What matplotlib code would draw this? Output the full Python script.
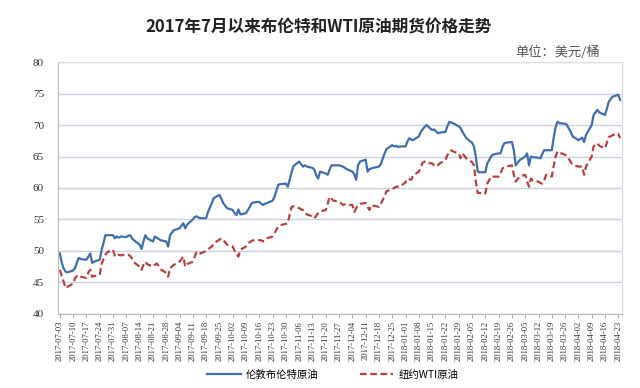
import matplotlib
matplotlib.use("Agg")
import matplotlib.pyplot as plt
import matplotlib.dates as mdates
import pandas as pd

TITLE = "2017年7月以来布伦特和WTI原油期货价格走势"
UNIT = "单位：美元/桶"
SERIES_NAMES = ["伦敦布伦特原油", "纽约WTI原油"]

dates = pd.bdate_range("2017-07-03", "2018-04-24")
tick_dates = pd.date_range("2017-07-03", "2018-04-23", freq="7D")

brent = [
    49.6, 48.1, 47.2, 46.7, 46.6, 46.9, 47.3, 48.2, 48.9, 48.7,
    48.6, 49.1, 49.6, 48.1, 48.3, 48.6, 50.2, 51.3, 52.5, 52.5,
    52.5, 52.0, 52.3, 52.1, 52.3, 52.2, 52.4, 52.5, 52.0, 51.7,
    51.0, 50.3, 51.5, 52.5, 52.0, 51.5, 52.3, 52.1, 51.9, 51.7,
    51.5, 50.7, 52.5, 52.9, 53.3, 53.6, 54.0, 54.4, 53.6, 54.2,
    55.0, 55.4, 55.5, 55.3, 55.2, 55.2, 56.2, 56.9, 57.6, 58.4,
    58.9, 58.3, 57.6, 57.2, 56.8, 56.5, 56.0, 55.7, 56.6, 55.8,
    56.0, 56.5, 57.0, 57.6, 57.7, 57.8, 57.5, 57.3, 57.5, 57.6,
    58.0, 58.6, 59.6, 60.5, 60.6, 60.7, 60.2, 61.3, 62.5, 63.5,
    64.2, 63.8, 63.4, 63.6, 63.4, 63.2, 62.9, 62.0, 61.5, 62.6,
    62.3, 62.1, 62.9, 63.6, 63.6, 63.6, 63.5, 63.4, 63.2, 63.0,
    62.6, 62.2, 61.3, 63.6, 64.2, 64.5, 62.6, 63.0, 63.1, 63.2,
    63.4, 63.8, 64.7, 65.5, 66.2, 66.8, 66.6, 66.7, 66.5, 66.6,
    66.6, 67.4, 67.9, 67.7, 67.6, 68.2, 68.9, 69.3, 69.7, 70.0,
    69.2, 69.3, 69.0, 68.7, 68.8, 68.9, 69.8, 70.5, 70.4, 70.3,
    69.8, 69.5, 68.9, 68.4, 67.9, 67.2, 66.6, 65.0, 62.6, 62.5,
    62.5, 63.9, 64.4, 65.0, 65.3, 65.5, 65.5, 66.5, 67.1, 67.2,
    67.3, 66.0, 63.6, 64.0, 64.4, 65.0, 65.5, 63.6, 65.0, 64.9,
    64.8, 64.7, 65.4, 66.0, 66.0, 66.0, 68.0, 69.7, 70.5, 70.3,
    70.2, 70.0, 69.4, 68.9, 68.2, 67.6, 67.8, 68.0, 67.3, 68.4,
    70.0, 71.6, 72.0, 72.4, 72.0, 71.6, 72.6, 73.7, 74.1, 74.5,
    74.8, 74.0,
]

wti = [
    47.0, 46.0, 45.1, 44.1, 44.3, 44.8, 45.7, 46.0, 46.2, 45.9,
    45.7, 46.6, 47.0, 45.9, 46.0, 46.2, 48.0, 48.7, 49.4, 49.8,
    50.2, 49.1, 49.3, 49.4, 49.3, 49.4, 49.4, 49.2, 48.8, 48.2,
    47.5, 47.0, 47.8, 48.3, 47.9, 47.5, 47.8, 48.0, 47.6, 47.1,
    46.5, 45.9, 47.3, 47.5, 47.8, 48.3, 48.7, 49.1, 47.5, 47.9,
    48.3, 49.1, 49.9, 49.8, 49.6, 50.0, 50.2, 50.5, 50.7, 51.2,
    51.8, 52.0, 51.7, 51.4, 51.0, 50.7, 50.0, 49.5, 49.1, 50.2,
    50.7, 51.2, 51.4, 51.6, 51.7, 51.7, 51.7, 51.5, 51.8, 52.0,
    52.3, 52.8, 53.4, 53.9, 54.1, 54.3, 54.4, 55.8, 57.0, 57.1,
    56.8, 56.6, 56.5, 56.2, 55.8, 55.5, 55.2, 55.6, 56.0, 56.3,
    56.5, 57.5, 58.6, 58.3, 58.0, 57.8, 57.6, 57.3, 57.4, 57.3,
    57.3, 56.2, 56.8, 57.3, 57.5, 57.6, 57.0, 56.5, 57.3, 57.2,
    57.0, 57.5, 58.1, 58.8, 59.5, 59.8, 60.0, 60.2, 60.2, 60.2,
    60.9, 61.5, 61.4, 61.3, 62.0, 62.6, 63.3, 64.0, 64.2, 64.0,
    63.9, 63.6, 63.4, 63.6, 63.9, 64.5, 65.2, 65.6, 66.0, 65.8,
    65.5, 64.7, 65.5, 65.1, 64.7, 64.1, 63.6, 61.0, 59.2, 59.2,
    59.1, 60.7, 61.2, 61.8, 61.8, 61.8, 62.3, 63.1, 63.3, 63.4,
    63.6, 62.1, 61.0, 61.4, 61.8, 62.1, 61.0, 60.2, 61.5, 61.2,
    61.0, 60.8, 60.7, 61.2, 62.1, 61.8, 63.5, 65.0, 65.8, 65.6,
    65.3, 65.0, 64.6, 64.1, 63.7, 63.4, 63.4, 63.4, 62.1, 63.4,
    65.0, 66.6, 66.9, 67.1, 66.7, 66.3, 67.2, 68.1, 68.2, 68.4,
    68.6, 67.9,
]

CJK = ["Noto Sans CJK SC", "DejaVu Sans"]
SERIF = ["Liberation Serif", "DejaVu Serif"]

fig = plt.figure(figsize=(6.4, 3.88), dpi=100)
ax = fig.add_axes([0.0906, 0.191, 0.8814, 0.649])

ax.plot(dates, brent, color="#3E6EAD", lw=1.6, label=SERIES_NAMES[0])
ax.plot(dates, wti, color="#B8403D", lw=1.6, ls=(0, (3, 1.6)), label=SERIES_NAMES[1])

ax.set_ylim(40, 80)
ax.set_yticks(range(40, 81, 5))
ax.set_xlim(dates[0] - pd.Timedelta(days=1), dates[-1] + pd.Timedelta(days=1))
ax.set_xticks(tick_dates)
ax.xaxis.set_major_formatter(mdates.DateFormatter("%Y-%m-%d"))
ax.grid(axis="y", color="#C9D3E0", lw=1.0)
ax.set_axisbelow(True)

for lab in ax.get_yticklabels():
    lab.set_family(SERIF)
    lab.set_fontsize(8)
    lab.set_color("#333333")
for lab in ax.get_xticklabels():
    lab.set_family(SERIF)
    lab.set_fontsize(6.2)
    lab.set_rotation(90)
    lab.set_color("#333333")

ax.tick_params(axis="y", length=0, pad=10)
ax.tick_params(axis="x", length=3, color="#B0B0B0", pad=2)
for side in ["left", "bottom"]:
    ax.spines[side].set_color("#B8B8B8")
for side in ["top", "right"]:
    ax.spines[side].set_color("#D6DCE5")

fig.text(0.497, 0.928, TITLE, ha="center", va="center", fontsize=12,
         fontweight="bold", family=CJK, color="#222222")
fig.text(0.9375, 0.866, UNIT, ha="right", va="center", fontsize=9.5,
         family=CJK, color="#555555")

leg = fig.legend(loc="center", bbox_to_anchor=(0.52, 0.035), ncol=2,
                 frameon=False, prop={"family": CJK, "size": 7.5},
                 handlelength=3.2, columnspacing=4.0, handletextpad=0.5)

fig.savefig("out.png", dpi=100)
